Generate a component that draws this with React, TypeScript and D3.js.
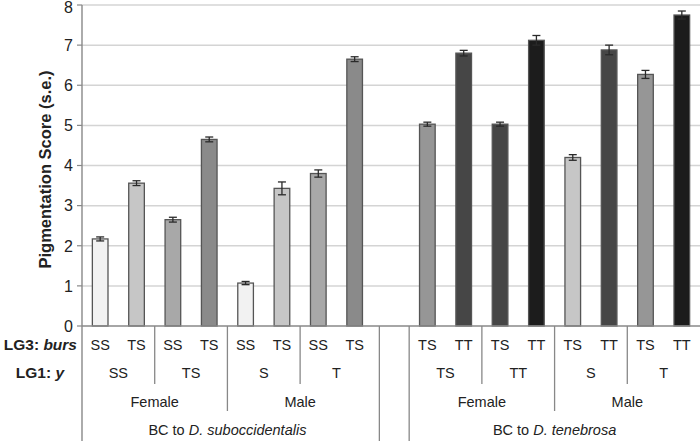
import React from "react";
import * as d3 from "d3";

const lg3Labels = ["SS","TS","SS","TS","SS","TS","SS","TS","","TS","TT","TS","TT","TS","TT","TS","TT"];
const lg1Groups = ["SS","TS","S","T","TS","TT","S","T"];
const sexGroups = ["Female","Male","Female","Male"];
const values = [2.17,3.56,2.65,4.65,1.07,3.43,3.80,6.65,NaN,5.03,6.80,5.03,7.12,4.20,6.88,6.27,7.75];
const errors = [0.05,0.06,0.06,0.06,0.04,0.16,0.09,0.06,NaN,0.05,0.07,0.05,0.12,0.07,0.12,0.10,0.10];
const colors = ["#f2f2f2","#c6c6c6","#a8a8a8","#8a8a8a","#f2f2f2","#c6c6c6","#a8a8a8","#8a8a8a","none","#969696","#464646","#464646","#1c1c1c","#c6c6c6","#464646","#969696","#1c1c1c"];
const yTicks = [0,1,2,3,4,5,6,7,8];

const FONT = "Arial, 'Liberation Sans', Helvetica, sans-serif";

export default function App() {
  const W = 700, H = 441;
  const x0 = 82, x1 = 700, yTop = 5, yBot = 326;
  const keys = lg3Labels.map((_, i) => String(i));
  const x = d3.scaleBand<string>().domain(keys).range([x0, x1]).padding(0);
  const step = x.bandwidth();
  const barW = step * 0.43;
  const y = d3.scaleLinear().domain([0, 8]).range([yBot, yTop]);
  const cx = (i: number) => (x(String(i)) as number) + step / 2;
  const bound = (i: number) => x(String(i)) as number;

  const bandIdx = (k: number) => (k < 8 ? k : k + 1);
  const groupCenter = (start: number, len: number) => {
    const a = cx(bandIdx(start)), b = cx(bandIdx(start + len - 1));
    return (a + b) / 2;
  };

  const rowLG3 = 350, rowLG1 = 378, rowSex = 407, rowBC = 435;
  const textCol = "#222";

  const pairSeps: number[] = [];
  const sexSeps: number[] = [];
  for (let k = 1; k < 8; k++) {
    if (k === 4) continue;
    const sepX = bound(bandIdx(k * 2));
    if (k % 2 === 1) pairSeps.push(sepX); else sexSeps.push(sepX);
  }
  const bigSeps = [bound(8) + step * 0.18, bound(9)];

  return (
    <svg width={W} height={H} style={{ position: "absolute", left: 0, top: 0, background: "#fff" }} fontFamily={FONT}>
      <rect x={0} y={0} width={W} height={H} fill="#fff" />
      {yTicks.filter(t => t > 0).map(t => (
        <line key={"g" + t} x1={x0} x2={x1} y1={y(t)} y2={y(t)} stroke="#d4d4d4" strokeWidth={1.5} />
      ))}
      {yTicks.map(t => (
        <g key={"t" + t}>
          <line x1={x0 - 5} x2={x0} y1={y(t)} y2={y(t)} stroke="#888" strokeWidth={1.2} />
          <text x={x0 - 9} y={Math.max(y(t), 7)} dy="0.36em" textAnchor="end" fontSize={16} fill={textCol}>{t}</text>
        </g>
      ))}
      {values.map((v, i) => isNaN(v) ? null : (
        <rect key={"b" + i} x={cx(i) - barW / 2} y={y(v)} width={barW} height={yBot - y(v)}
          fill={colors[i]} stroke="#555" strokeWidth={1.3} />
      ))}
      {values.map((v, i) => isNaN(v) ? null : (
        <g key={"e" + i} stroke="#2a2a2a" strokeWidth={1.3}>
          <line x1={cx(i)} x2={cx(i)} y1={y(v + errors[i])} y2={y(v - errors[i])} />
          <line x1={cx(i) - 4} x2={cx(i) + 4} y1={y(v + errors[i])} y2={y(v + errors[i])} />
          <line x1={cx(i) - 4} x2={cx(i) + 4} y1={y(v - errors[i])} y2={y(v - errors[i])} />
        </g>
      ))}
      <line x1={x0} x2={x0} y1={yTop} y2={H} stroke="#888" strokeWidth={1.4} />
      <line x1={x0} x2={x1} y1={yBot} y2={yBot} stroke="#888" strokeWidth={1.4} />
      {pairSeps.map((s, i) => <line key={"ps" + i} x1={s} x2={s} y1={yBot} y2={384} stroke="#888" strokeWidth={1.3} />)}
      {sexSeps.map((s, i) => <line key={"ss" + i} x1={s} x2={s} y1={yBot} y2={411} stroke="#888" strokeWidth={1.3} />)}
      {bigSeps.map((s, i) => <line key={"bs" + i} x1={s} x2={s} y1={yBot} y2={H} stroke="#888" strokeWidth={1.3} />)}
      {lg3Labels.map((l, i) => l ? (
        <text key={"l3" + i} x={cx(i)} y={rowLG3} textAnchor="middle" fontSize={14.5} fill={textCol}>{l}</text>
      ) : null)}
      {lg1Groups.map((l, k) => (
        <text key={"l1" + k} x={groupCenter(k * 2, 2)} y={rowLG1} textAnchor="middle" fontSize={14.5} fill={textCol}>{l}</text>
      ))}
      {sexGroups.map((l, k) => (
        <text key={"sx" + k} x={groupCenter(k * 4, 4)} y={rowSex} textAnchor="middle" fontSize={14.5} fill={textCol}>{l}</text>
      ))}
      <text x={groupCenter(0, 8)} y={rowBC} textAnchor="middle" fontSize={14.5} fill={textCol}>
        BC to <tspan fontStyle="italic">D. suboccidentalis</tspan>
      </text>
      <text x={groupCenter(8, 8)} y={rowBC} textAnchor="middle" fontSize={14.5} fill={textCol}>
        BC to <tspan fontStyle="italic">D. tenebrosa</tspan>
      </text>
      <text x={77} y={rowLG3} textAnchor="end" fontSize={15.5} fontWeight="bold" fill={textCol}>
        LG3: <tspan fontStyle="italic">burs</tspan>
      </text>
      <text x={64} y={rowLG1} textAnchor="end" fontSize={15.5} fontWeight="bold" fill={textCol}>
        LG1: <tspan fontStyle="italic">y</tspan>
      </text>
      <text transform={`translate(51, ${(yTop + yBot) / 2 + 4}) rotate(-90)`} textAnchor="middle" fontSize={16.5} fontWeight="bold" fill={textCol}>
        Pigmentation Score (s.e.)
      </text>
    </svg>
  );
}
